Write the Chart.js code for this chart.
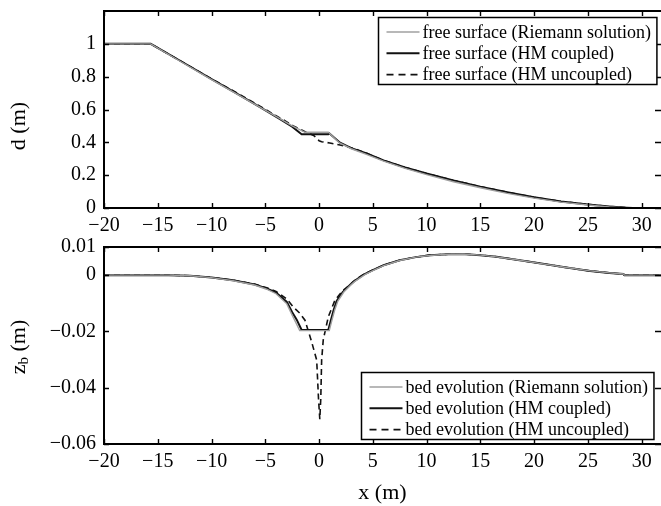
<!DOCTYPE html>
<html>
<head>
<meta charset="utf-8">
<script src="https://cdn.jsdelivr.net/npm/chart.js@4"></script>
<style>
  html, body { margin: 0; padding: 0; background: #fff; }
  #wrap { position: relative; width: 661px; height: 506px; }
  canvas { position: absolute; left: 0; }
  #surf-chart { top: 0; }
  #bed-chart { top: 235px; }
</style>
</head>
<body>
<div id="wrap">
  <canvas id="surf-chart" width="661" height="235"></canvas>
  <canvas id="bed-chart" width="661" height="271"></canvas>
</div>
<script>
// axis ticks
const xTicks = [-20, -15, -10, -5, 0, 5, 10, 15, 20, 25, 30];
const dTicks = [0, 0.2, 0.4, 0.6, 0.8, 1];
const zTicks = [-0.06, -0.04, -0.02, 0, 0.01];

// free surface d (m)
const surfRiemannX = [-20, -15.66, -13, -10, -8, -6, -4, -2.5, -1.3, 0.86, 1.9, 3, 4.4, 6, 8, 10, 12.5, 15, 17.5, 20, 22.5, 25, 27, 28.5, 31.8];
const surfRiemannY = [1, 1, 0.897, 0.782, 0.707, 0.633, 0.558, 0.5, 0.461, 0.461, 0.396, 0.361, 0.327, 0.285, 0.241, 0.203, 0.16, 0.123, 0.089, 0.06, 0.036, 0.018, 0.006, 0, 0];

const surfCoupledX = [-20, -15.66, -13, -10, -8, -5.49, -3.63, -2.5, -1.62, 0.86, 0.95, 1.95, 3, 4.43, 6, 8, 10, 12.5, 15, 17.5, 20, 22.5, 25, 27, 28.6, 29.2, 31.8];
const surfCoupledY = [1, 1, 0.9, 0.785, 0.71, 0.614, 0.541, 0.495, 0.449, 0.449, 0.455, 0.398, 0.365, 0.333, 0.29, 0.247, 0.21, 0.168, 0.13, 0.096, 0.065, 0.04, 0.022, 0.009, 0.002, 0, 0];

const surfUncoupledX = [-20, -15.66, -13, -10, -8, -5.5, -4, -3, -2.4, -1.0, -0.5, 0, 0.24, 1.0, 1.95, 3.34, 4.43, 6, 8, 10, 12.5, 15, 17.5, 20, 22.5, 25, 27, 28.6, 29.2, 31.8];
const surfUncoupledY = [1, 1, 0.9, 0.787, 0.714, 0.62, 0.562, 0.525, 0.5, 0.455, 0.442, 0.41, 0.404, 0.396, 0.384, 0.36, 0.333, 0.29, 0.247, 0.21, 0.168, 0.13, 0.096, 0.065, 0.04, 0.022, 0.009, 0.002, 0, 0];

// bed evolution zb (m)
const bedRiemannX = [-20, -14, -12, -10, -8, -6, -4.87, -4, -3, -2.5, -2.2, -1.8, 0.95, 1.2, 1.45, 1.75, 2.3, 2.95, 3.3, 4.3, 5, 6, 7.5, 9, 10.3, 12, 13.4, 15, 16.5, 18.5, 20.5, 23, 25.2, 27, 28.3, 28.4, 31.8];
const bedRiemannY = [0, 0, -0.0002, -0.0009, -0.002, -0.0035, -0.005, -0.0066, -0.0102, -0.0142, -0.0165, -0.0197, -0.0197, -0.016, -0.0125, -0.0092, -0.006, -0.0035, -0.0023, 0.0003, 0.0016, 0.0034, 0.0052, 0.0064, 0.007, 0.0074, 0.0075, 0.0071, 0.0065, 0.0054, 0.0042, 0.0027, 0.0015, 0.0008, 0.0004, 0, 0];

const bedCoupledX = [-20, -14, -12, -10, -8, -6, -4.87, -4, -3, -2.5, -2.08, -1.62, 0.86, 1.1, 1.35, 1.64, 2.2, 2.87, 3.18, 4.2, 5, 6, 7.5, 9, 10.3, 12, 13.4, 15, 16.5, 18.5, 20.5, 23, 25.2, 27, 28.3, 28.4, 31.8];
const bedCoupledY = [0, 0, -0.0002, -0.0008, -0.0018, -0.0033, -0.0047, -0.0062, -0.0095, -0.0132, -0.0158, -0.0195, -0.0195, -0.016, -0.0125, -0.0092, -0.006, -0.0035, -0.0024, 0.0003, 0.0018, 0.0035, 0.0053, 0.0064, 0.0071, 0.0074, 0.0075, 0.0071, 0.0065, 0.0054, 0.0042, 0.0027, 0.0015, 0.0008, 0.0004, 0, 0];

const bedUncoupledX = [-20, -14, -12, -10, -8, -6, -4.87, -4, -3, -2.4, -1.8, -1.31, -0.69, -0.22, -0.05, 0.07, 0.16, 0.24, 0.39, 0.86, 1.48, 2.2, 3, 3.5, 4.2, 5, 6, 7.5, 9, 10.3, 12, 13.4, 15, 16.5, 18.5, 20.5, 23, 25.2, 27, 28.3, 28.4, 31.8];
const bedUncoupledY = [0, 0, -0.0002, -0.0008, -0.0018, -0.0032, -0.0045, -0.0058, -0.0085, -0.0113, -0.0135, -0.016, -0.0237, -0.0302, -0.044, -0.0512, -0.044, -0.0302, -0.023, -0.0148, -0.0089, -0.0055, -0.003, -0.0013, 0.0004, 0.0018, 0.0035, 0.0053, 0.0064, 0.0071, 0.0074, 0.0075, 0.0071, 0.0065, 0.0054, 0.0042, 0.0027, 0.0015, 0.0008, 0.0004, 0, 0];

const serif = '"Liberation Serif", "Times New Roman", serif';
const tickFont = { family: serif, size: 20 };

const fmt = (v) => (v < 0 ? '\u2212' : '') + Math.abs(Math.round(v * 1000) / 1000);

const pts = (xs, ys) => xs.map((x, i) => ({ x: x, y: ys[i] }));

const line = (label, xs, ys, kind) => ({
  label: label,
  data: pts(xs, ys),
  showLine: true,
  pointRadius: 0,
  borderColor: kind === 'gray' ? '#a0a0a0' : '#111',
  borderWidth: kind === 'black' ? 2 : (kind === 'gray' ? 1.4 : 1.6),
  borderDash: kind === 'dash' ? [6, 4] : [],
  tension: 0,
});

const makeScales = (yMin, yMax, yTicks, xHeight) => ({
  x: {
    type: 'linear', min: -20, max: 31.8,
    grid: { display: false, drawTicks: false }, border: { display: false },
    afterBuildTicks: (s) => { s.ticks = xTicks.map((v) => ({ value: v })); },
    afterFit: (s) => { s.height = xHeight; s.paddingLeft = 0; s.paddingRight = 0; },
    ticks: { callback: fmt, autoSkip: false, maxRotation: 0, padding: 6, color: '#000', font: tickFont },
  },
  y: {
    type: 'linear', min: yMin, max: yMax,
    grid: { display: false, drawTicks: false }, border: { display: false },
    afterBuildTicks: (s) => { s.ticks = yTicks.map((v) => ({ value: v })); },
    afterFit: (s) => { s.width = 104; s.paddingTop = 0; s.paddingBottom = 0; },
    ticks: { callback: fmt, autoSkip: false, padding: 8, color: '#000', font: tickFont },
  },
});

// box and inward ticks, matlab style
const framePlugin = {
  id: 'frame',
  afterDatasetsDraw(chart) {
    const { ctx, chartArea: a, scales } = chart;
    ctx.save();
    ctx.strokeStyle = '#000';
    ctx.lineWidth = 2;
    ctx.beginPath();
    ctx.moveTo(a.right, a.top); ctx.lineTo(a.left, a.top); ctx.lineTo(a.left, a.bottom); ctx.lineTo(a.right, a.bottom);
    ctx.stroke();
    ctx.lineWidth = 1.4;
    ctx.beginPath();
    scales.x.ticks.forEach((t) => {
      const px = Math.round(scales.x.getPixelForValue(t.value)) + 0.5;
      ctx.moveTo(px, a.bottom); ctx.lineTo(px, a.bottom - 5);
      ctx.moveTo(px, a.top); ctx.lineTo(px, a.top + 5);
    });
    scales.y.ticks.forEach((t) => {
      const py = Math.round(scales.y.getPixelForValue(t.value)) + 0.5;
      ctx.moveTo(a.left, py); ctx.lineTo(a.left + 5, py);
      ctx.moveTo(a.right - 6, py); ctx.lineTo(a.right, py);
    });
    ctx.stroke();
    ctx.restore();
  },
};

// legend box inside the axes
const legendPlugin = {
  id: 'boxLegend',
  afterDraw(chart, args, opts) {
    const { ctx, chartArea: a } = chart;
    const items = chart.data.datasets;
    ctx.save();
    ctx.font = '18px ' + serif;
    const textW = Math.max(...items.map((d) => ctx.measureText(d.label).width));
    const w = 8 + 33 + 3 + textW + 6;
    const h = 67;
    const x0 = Math.round(a.right - opts.right - w) + 0.5;
    const y0 = Math.round(opts.anchor === 'top' ? a.top + opts.top : a.bottom - opts.bottom - h) + 0.5;
    ctx.fillStyle = '#fff';
    ctx.fillRect(x0, y0, w, h);
    ctx.strokeStyle = '#000';
    ctx.lineWidth = 1.5;
    ctx.strokeRect(x0, y0, w, h);
    items.forEach((d, i) => {
      const cy = y0 + 14.5 + i * 21.3;
      ctx.beginPath();
      ctx.strokeStyle = d.borderColor;
      ctx.lineWidth = d.borderWidth;
      ctx.setLineDash(d.borderDash.length ? [7, 5] : []);
      ctx.moveTo(x0 + 8, cy); ctx.lineTo(x0 + 41, cy);
      ctx.stroke();
      ctx.setLineDash([]);
      ctx.fillStyle = '#000';
      ctx.textBaseline = 'middle';
      ctx.fillText(d.label, x0 + 44, cy + 1);
    });
    ctx.restore();
  },
};

// axis titles (the z_b one needs a subscript)
const drawParts = (ctx, parts, cx, cy, rotate) => {
  ctx.save();
  ctx.translate(cx, cy);
  if (rotate) ctx.rotate(-Math.PI / 2);
  let total = 0;
  parts.forEach((p) => { ctx.font = p[1] + 'px ' + serif; total += ctx.measureText(p[0]).width; });
  let x = -total / 2;
  ctx.fillStyle = '#000';
  ctx.textBaseline = 'middle';
  parts.forEach((p) => {
    ctx.font = p[1] + 'px ' + serif;
    ctx.fillText(p[0], x, p[2]);
    x += ctx.measureText(p[0]).width;
  });
  ctx.restore();
};

const titlePlugin = {
  id: 'titles',
  afterDraw(chart, args, opts) {
    const { ctx, chartArea: a } = chart;
    drawParts(ctx, opts.y, 19, a.top + opts.yOffset, true);
    if (opts.x) drawParts(ctx, opts.x, (a.left + a.right) / 2, a.bottom + 49, false);
  },
};

new Chart(document.getElementById('surf-chart'), {
  type: 'scatter',
  data: {
    datasets: [
      line('free surface (Riemann solution)', surfRiemannX, surfRiemannY, 'gray'),
      line('free surface (HM coupled)', surfCoupledX, surfCoupledY, 'black'),
      line('free surface (HM uncoupled)', surfUncoupledX, surfUncoupledY, 'dash'),
    ],
  },
  options: {
    responsive: false,
    animation: false,
    devicePixelRatio: 1,
    layout: { padding: { top: 11, right: 0, bottom: 0, left: 0 } },
    scales: makeScales(0, 1.2, dTicks, 27),
    plugins: {
      legend: { display: false },
      tooltip: { enabled: false },
      boxLegend: { anchor: 'top', right: 5, top: 6 },
      titles: { y: [['d (m)', 22, 0]], yOffset: 115 },
    },
  },
  plugins: [framePlugin, legendPlugin, titlePlugin],
});

new Chart(document.getElementById('bed-chart'), {
  type: 'scatter',
  data: {
    datasets: [
      line('bed evolution (Riemann solution)', bedRiemannX, bedRiemannY, 'gray'),
      line('bed evolution (HM coupled)', bedCoupledX, bedCoupledY, 'black'),
      line('bed evolution (HM uncoupled)', bedUncoupledX, bedUncoupledY, 'dash'),
    ],
  },
  options: {
    responsive: false,
    animation: false,
    devicePixelRatio: 1,
    layout: { padding: { top: 12, right: 0, bottom: 0, left: 0 } },
    scales: makeScales(-0.06, 0.01, zTicks, 62),
    plugins: {
      legend: { display: false },
      tooltip: { enabled: false },
      boxLegend: { anchor: 'bottom', right: 8, bottom: 5 },
      titles: { y: [['z', 22, 0], ['b', 15, 5], [' (m)', 22, 0]], yOffset: 100, x: [['x (m)', 22, 0]] },
    },
  },
  plugins: [framePlugin, legendPlugin, titlePlugin],
});
</script>
</body>
</html>
